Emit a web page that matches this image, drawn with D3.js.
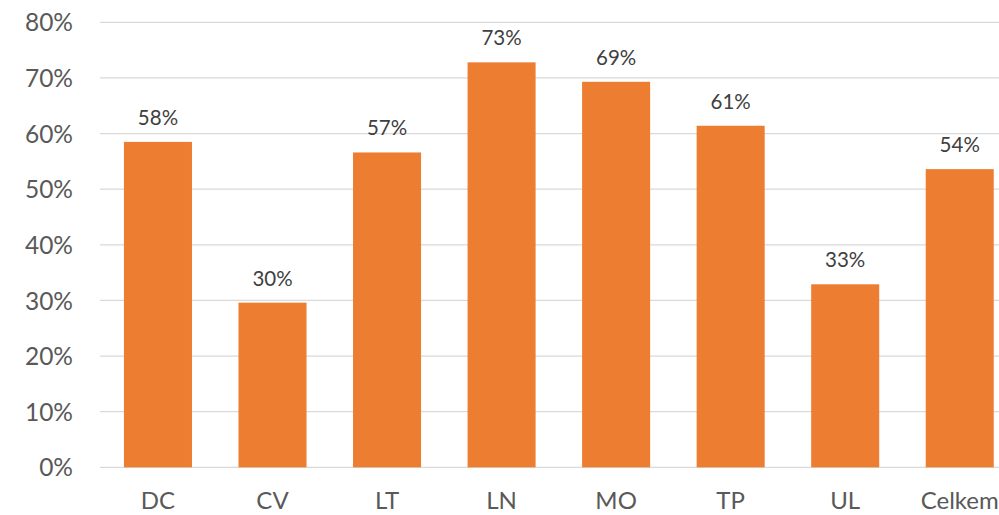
<!DOCTYPE html>
<html><head><meta charset="utf-8">
<script src="https://cdn.jsdelivr.net/npm/d3@7"></script>
<style>html,body{margin:0;padding:0;background:#fff;overflow:hidden}</style>
</head><body>
<svg id="c" width="999" height="515"></svg>
<script>
const categories = ["DC","CV","LT","LN","MO","TP","UL","Celkem"];
const values = [0.585, 0.296, 0.566, 0.728, 0.693, 0.614, 0.329, 0.536];
const labels = ["58%","30%","57%","73%","69%","61%","33%","54%"];
const yTicks = [0,0.1,0.2,0.3,0.4,0.5,0.6,0.7,0.8];

const svg = d3.select("#c");
const font = "Lato, 'Open Sans', sans-serif";
const x = d3.scaleBand().domain(categories).range([100.7, 1017]).paddingInner(0.406).paddingOuter(0.203);
const y = d3.scaleLinear().domain([0,0.8]).range([467.3, 22.3]);

// gridlines
svg.append("g").selectAll("line").data(yTicks).join("line")
  .attr("x1",100).attr("x2",999)
  .attr("y1",d=>y(d)).attr("y2",d=>y(d))
  .attr("stroke","#d9d9d9").attr("stroke-width",1.3);

// y axis labels
const yAxis = d3.axisLeft(y).tickValues(yTicks).tickFormat(d3.format(".0%")).tickSize(0).tickPadding(0);
const ya = svg.append("g").attr("transform","translate(73,0)").call(yAxis);
ya.select(".domain").remove();
ya.selectAll("text").attr("font-family",font).attr("font-size",24.5).attr("fill","#595959").attr("dy","0.35em");

// bars
svg.append("g").selectAll("rect").data(values).join("rect")
  .attr("x",(d,i)=>x(categories[i])).attr("width",x.bandwidth())
  .attr("y",d=>y(d)).attr("height",d=>y(0)-y(d))
  .attr("fill","#ED7D31");

// data labels
svg.append("g").selectAll("text").data(values).join("text")
  .attr("x",(d,i)=>x(categories[i])+x.bandwidth()/2)
  .attr("y",d=>y(d)-17)
  .attr("text-anchor","middle")
  .attr("font-family",font).attr("font-size",20.5).attr("fill","#404040")
  .text((d,i)=>labels[i]);

// x axis labels
const xAxis = d3.axisBottom(x).tickSize(0).tickPadding(0);
const xa = svg.append("g").attr("transform","translate(0,509)").call(xAxis);
xa.select(".domain").remove();
xa.selectAll("text").attr("font-family",font).attr("font-size",24).attr("fill","#595959").attr("dy","0");
</script>
</body></html>
